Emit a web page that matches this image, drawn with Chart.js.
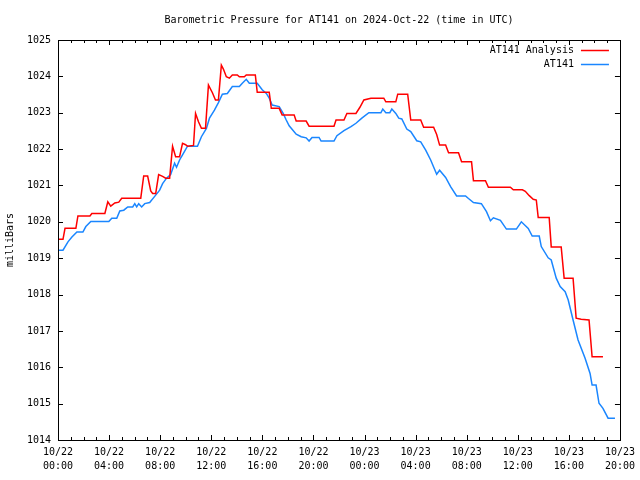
<!DOCTYPE html>
<html>
<head>
<meta charset="utf-8">
<title>Barometric Pressure for AT141</title>
<script src="https://cdn.jsdelivr.net/npm/chart.js@4.4.1/dist/chart.umd.min.js"></script>
<style>
  body { margin: 0; background: #fff; }
  canvas { display: block; }
</style>
</head>
<body>
<canvas id="pressureChart" width="640" height="480"></canvas>
<script>
// hours since 2024-10-22 00:00 UTC
const xTickHours = [0, 4, 8, 12, 16, 20, 24, 28, 32, 36, 40, 44];
const xTickLabels = [
    ['10/22', '00:00'], ['10/22', '04:00'], ['10/22', '08:00'], ['10/22', '12:00'],
    ['10/22', '16:00'], ['10/22', '20:00'], ['10/23', '00:00'], ['10/23', '04:00'],
    ['10/23', '08:00'], ['10/23', '12:00'], ['10/23', '16:00'], ['10/23', '20:00']
];

// AT141 Analysis (red)
const analysisHours = [
    0, 0.39, 0.55, 1.40, 1.56, 2.50, 2.65, 3.67, 3.90, 4.13, 4.45, 4.76, 4.99, 6.48, 6.71,
    7.02, 7.26, 7.41, 7.65, 7.88, 8.19, 8.43, 8.74, 8.97, 9.21, 9.52, 9.75, 9.99, 10.14,
    10.61, 10.77, 11.00, 11.23, 11.55, 11.78, 12.09, 12.33, 12.56, 12.79, 12.95, 13.18,
    13.42, 13.65, 14.04, 14.20, 14.59, 14.74, 15.45, 15.60, 16.54, 16.70, 17.32, 17.55,
    18.49, 18.65, 19.43, 19.66, 21.61, 21.77, 22.39, 22.62, 23.33, 23.64, 23.95, 24.50,
    25.51, 25.67, 26.45, 26.60, 27.38, 27.62, 28.40, 28.63, 29.41, 29.65, 29.88, 30.35,
    30.58, 31.36, 31.60, 32.38, 32.53, 33.47, 33.70, 35.42, 35.65, 36.36, 36.59, 36.90,
    37.21, 37.45, 37.60, 38.46, 38.62, 39.40, 39.63, 40.33, 40.57, 40.96, 41.58, 41.82, 42.67
];
const analysisValues = [
    1019.52, 1019.52, 1019.82, 1019.82, 1020.16, 1020.16, 1020.23, 1020.23, 1020.55, 1020.43,
    1020.52, 1020.54, 1020.65, 1020.65, 1021.26, 1021.26, 1020.85, 1020.78, 1020.78, 1021.30,
    1021.25, 1021.20, 1021.20, 1022.08, 1021.79, 1021.79, 1022.16, 1022.12, 1022.08, 1022.10,
    1022.98, 1022.75, 1022.57, 1022.57, 1023.76, 1023.55, 1023.35, 1023.35, 1024.31, 1024.20,
    1023.99, 1023.95, 1024.04, 1024.04, 1023.99, 1023.99, 1024.04, 1024.04, 1023.56, 1023.56,
    1023.12, 1023.12, 1022.94, 1022.94, 1022.77, 1022.77, 1022.63, 1022.63, 1022.80, 1022.80,
    1022.98, 1022.98, 1023.15, 1023.35, 1023.40, 1023.40, 1023.30, 1023.30, 1023.51, 1023.51,
    1022.80, 1022.80, 1022.60, 1022.60, 1022.40, 1022.11, 1022.11, 1021.90, 1021.90, 1021.65,
    1021.65, 1021.13, 1021.13, 1020.95, 1020.95, 1020.88, 1020.88, 1020.84, 1020.72, 1020.62,
    1020.60, 1020.12, 1020.12, 1019.31, 1019.31, 1018.45, 1018.45, 1017.35, 1017.32, 1017.30,
    1016.29, 1016.29
];

// AT141 station (blue)
const stationHours = [
    0, 0.39, 0.78, 1.09, 1.48, 1.95, 2.18, 2.57, 3.98, 4.21, 4.60, 4.84, 5.15, 5.46, 5.85,
    6.01, 6.16, 6.32, 6.55, 6.79, 7.18, 7.57, 7.96, 8.19, 8.50, 8.82, 9.13, 9.28, 9.52, 9.75,
    10.14, 10.92, 11.23, 11.62, 11.86, 12.25, 12.56, 12.87, 13.26, 13.65, 14.20, 14.43, 14.74,
    14.98, 15.60, 15.99, 16.31, 16.54, 16.77, 17.32, 17.63, 17.87, 18.10, 18.65, 19.04, 19.43,
    19.66, 19.89, 20.44, 20.60, 21.61, 21.84, 22.39, 22.94, 23.33, 23.79, 24.34, 25.28, 25.43,
    25.67, 25.98, 26.14, 26.45, 26.68, 26.92, 27.31, 27.62, 28.09, 28.40, 28.79, 29.18, 29.65,
    29.88, 30.35, 30.74, 31.21, 31.91, 32.14, 32.53, 33.15, 33.55, 33.86, 34.09, 34.64, 35.11,
    35.89, 36.28, 36.82, 37.13, 37.68, 37.84, 38.38, 38.62, 39.01, 39.32, 39.71, 39.95, 40.33,
    40.72, 41.27, 41.66, 41.82, 42.13, 42.36, 42.67, 43.07, 43.61
];
const stationValues = [
    1019.22, 1019.22, 1019.45, 1019.58, 1019.72, 1019.72, 1019.87, 1020.01, 1020.01, 1020.10,
    1020.10, 1020.30, 1020.32, 1020.41, 1020.41, 1020.50, 1020.41, 1020.50, 1020.41, 1020.50,
    1020.53, 1020.70, 1020.87, 1021.05, 1021.20, 1021.30, 1021.61, 1021.50, 1021.70, 1021.84,
    1022.08, 1022.08, 1022.34, 1022.57, 1022.85, 1023.07, 1023.28, 1023.51, 1023.53, 1023.72,
    1023.72, 1023.81, 1023.92, 1023.81, 1023.81, 1023.63, 1023.53, 1023.40, 1023.21, 1023.17,
    1022.98, 1022.80, 1022.64, 1022.41, 1022.34, 1022.31, 1022.22, 1022.32, 1022.32, 1022.22,
    1022.22, 1022.37, 1022.51, 1022.62, 1022.71, 1022.85, 1023.00, 1023.00, 1023.10, 1023.00,
    1023.00, 1023.10, 1022.98, 1022.85, 1022.83, 1022.55, 1022.48, 1022.23, 1022.20, 1021.97,
    1021.70, 1021.31, 1021.42, 1021.22, 1020.97, 1020.71, 1020.71, 1020.64, 1020.53, 1020.50,
    1020.28, 1020.03, 1020.11, 1020.04, 1019.80, 1019.80, 1020.00, 1019.82, 1019.61, 1019.61,
    1019.32, 1019.01, 1018.95, 1018.45, 1018.22, 1018.08, 1017.85, 1017.30, 1016.75, 1016.25,
    1015.83, 1015.51, 1015.51, 1015.01, 1014.87, 1014.60, 1014.60
];

const seriesNames = ['AT141 Analysis', 'AT141'];
const seriesColors = ['#ff0000', '#1a86ff'];

const FONT = '"DejaVu Sans Mono", "Liberation Mono", monospace';

function toPoints(hours, values) {
    return hours.map((h, i) => ({ x: h, y: values[i] }));
}

// gnuplot-like frame, inward ticks, title, key and y label
const gnuplotFrame = {
    id: 'gnuplotFrame',
    afterDraw(chart) {
        const c = chart.ctx;
        const area = chart.chartArea;
        const xs = chart.scales.x;
        const ys = chart.scales.y;
        c.save();
        c.strokeStyle = '#000';
        c.lineWidth = 1;
        c.beginPath();
        // hourly ticks, longer every 4 hours
        for (let h = 0; h <= 44; h++) {
            const px = Math.round(xs.getPixelForValue(h)) + 0.5;
            const len = h % 4 === 0 ? 5 : 3;
            c.moveTo(px, area.bottom);
            c.lineTo(px, area.bottom - len);
            c.moveTo(px, area.top);
            c.lineTo(px, area.top + len);
        }
        for (let v = 1014; v <= 1025; v++) {
            const py = Math.round(ys.getPixelForValue(v)) + 0.5;
            c.moveTo(area.left, py);
            c.lineTo(area.left + 5, py);
            c.moveTo(area.right, py);
            c.lineTo(area.right - 5, py);
        }
        c.stroke();
        c.strokeRect(Math.round(area.left) + 0.5, Math.round(area.top) + 0.5,
            Math.round(area.right - area.left), Math.round(area.bottom - area.top));

        c.fillStyle = '#000';
        c.font = '10px ' + FONT;
        c.textBaseline = 'middle';
        c.textAlign = 'center';
        c.fillText('Barometric Pressure for AT141 on 2024-Oct-22 (time in UTC)',
            (area.left + area.right) / 2, 20);

        // key
        c.textAlign = 'right';
        c.lineWidth = 1.5;
        seriesNames.forEach((name, i) => {
            const y = 50 + i * 14;
            c.fillStyle = '#000';
            c.fillText(name, area.right - 46, y);
            c.strokeStyle = seriesColors[i];
            c.beginPath();
            c.moveTo(area.right - 39, y + 0.5);
            c.lineTo(area.right - 11, y + 0.5);
            c.stroke();
        });

        // y axis label
        c.fillStyle = '#000';
        c.translate(10, (area.top + area.bottom) / 2);
        c.rotate(-Math.PI / 2);
        c.textAlign = 'center';
        c.fillText('milliBars', 0, 0);
        c.restore();
    }
};

const ctx = document.getElementById('pressureChart').getContext('2d');
new Chart(ctx, {
    type: 'line',
    data: {
        datasets: [{
            label: seriesNames[0],
            data: toPoints(analysisHours, analysisValues),
            borderColor: seriesColors[0],
            borderWidth: 1.5,
            pointRadius: 0,
            tension: 0,
            fill: false
        }, {
            label: seriesNames[1],
            data: toPoints(stationHours, stationValues),
            borderColor: seriesColors[1],
            borderWidth: 1.5,
            pointRadius: 0,
            tension: 0,
            fill: false
        }]
    },
    options: {
        responsive: false,
        animation: false,
        events: [],
        layout: { padding: { top: 40, right: 19, bottom: 0, left: 0 } },
        plugins: {
            legend: { display: false },
            tooltip: { enabled: false }
        },
        scales: {
            x: {
                type: 'linear',
                min: 0,
                max: 44,
                grid: { display: false, drawTicks: false },
                border: { display: false },
                afterBuildTicks: (scale) => {
                    scale.ticks = xTickHours.map(v => ({ value: v }));
                },
                afterFit: (scale) => { scale.height = 40; },
                ticks: {
                    autoSkip: false,
                    maxRotation: 0,
                    padding: 5,
                    color: '#000',
                    font: { family: FONT, size: 10, lineHeight: 1.4 },
                    callback: (v) => xTickLabels[xTickHours.indexOf(v)]
                }
            },
            y: {
                min: 1014,
                max: 1025,
                grid: { display: false, drawTicks: false },
                border: { display: false },
                afterFit: (scale) => { scale.width = 58; },
                ticks: {
                    stepSize: 1,
                    padding: 7,
                    color: '#000',
                    font: { family: FONT, size: 10 },
                    callback: (v) => String(v)
                }
            }
        }
    },
    plugins: [gnuplotFrame]
});
</script>
</body>
</html>
